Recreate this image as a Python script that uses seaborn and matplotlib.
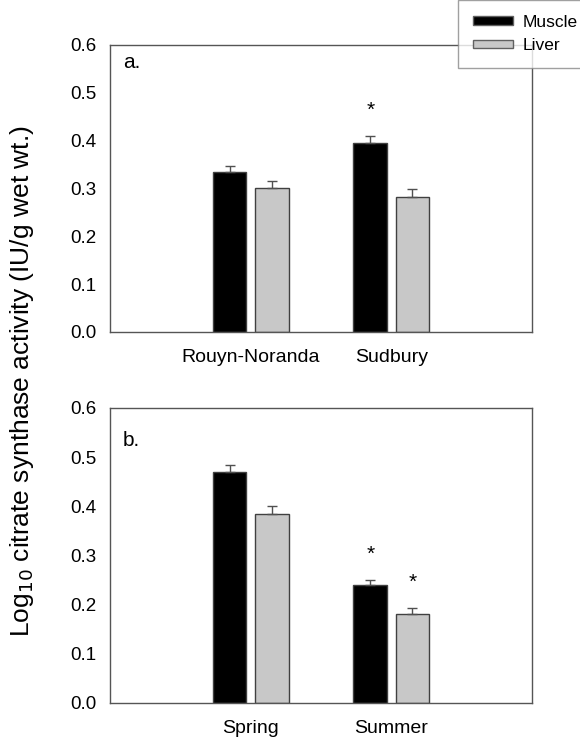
import matplotlib
matplotlib.use('Agg')
import matplotlib.pyplot as plt
import pandas as pd
import seaborn as sns
from matplotlib.patches import Patch

# data
tissues = ['Muscle', 'Liver']
sites = ['Rouyn-Noranda', 'Sudbury']
site_muscle = [0.335, 0.395]
site_liver = [0.300, 0.283]
site_muscle_se = [0.013, 0.014]
site_liver_se = [0.015, 0.015]
site_stars = [(1, 'Muscle')]

seasons = ['Spring', 'Summer']
season_muscle = [0.470, 0.239]
season_liver = [0.385, 0.180]
season_muscle_se = [0.015, 0.011]
season_liver_se = [0.016, 0.013]
season_stars = [(1, 'Muscle'), (1, 'Liver')]

colors = {'Muscle': '#000000', 'Liver': '#c8c8c8'}
edge = '#404040'


def make_df(cats, muscle, liver, muscle_se, liver_se):
    rows = []
    for i, c in enumerate(cats):
        rows.append({'group': c, 'tissue': 'Muscle', 'value': muscle[i], 'se': muscle_se[i]})
        rows.append({'group': c, 'tissue': 'Liver', 'value': liver[i], 'se': liver_se[i]})
    return pd.DataFrame(rows)


def draw_panel(ax, df, cats, stars, label, label_y):
    sns.barplot(data=df, x='group', y='value', hue='tissue', order=cats,
                hue_order=tissues, palette=colors, width=0.6, gap=0.2,
                errorbar=None, edgecolor=edge, linewidth=1, legend=False, ax=ax)
    # error bars (upper only) at the bar centres
    for t, cont in zip(tissues, ax.containers):
        sub = df[df['tissue'] == t].set_index('group').loc[cats]
        xs = [p.get_x() + p.get_width() / 2 for p in cont.patches]
        ax.errorbar(xs, sub['value'], yerr=[[0] * len(xs), sub['se']], fmt='none',
                    ecolor='#505050', elinewidth=1, capsize=3.3, capthick=1, zorder=3)
        for gi, tt in stars:
            if tt == t:
                ax.text(xs[gi], sub['value'].iloc[gi] + sub['se'].iloc[gi] + 0.042, '*',
                        ha='center', va='baseline', fontsize=15, color='black')
    ax.set_xlim(-1, 2)
    ax.set_ylim(0, 0.6)
    ax.set_yticks([0, 0.1, 0.2, 0.3, 0.4, 0.5, 0.6])
    ax.set_yticklabels(['0.0', '0.1', '0.2', '0.3', '0.4', '0.5', '0.6'])
    ax.set_xlabel('')
    ax.set_ylabel('')
    ax.tick_params(axis='y', direction='out', length=3.5, width=1, color='#505050', pad=6,
                   labelsize=13.5, labelcolor='black')
    ax.tick_params(axis='x', direction='out', length=3, width=1, color='#505050', pad=9,
                   labelsize=14, labelcolor='black')
    for s in ax.spines.values():
        s.set_color('#555555')
        s.set_linewidth(1)
    ax.text(0.03, label_y, label, transform=ax.transAxes, fontsize=15, va='center',
            ha='left', color='black')


sns.set_style('white')
plt.rcParams['font.family'] = ['Liberation Sans', 'DejaVu Sans']
plt.rcParams['text.color'] = 'black'

fig = plt.figure(figsize=(5.8, 7.45), dpi=100)
ax1 = fig.add_axes([0.1897, 0.5544, 0.7276, 0.3852])
ax2 = fig.add_axes([0.1897, 0.0564, 0.7276, 0.3960])

df1 = make_df(sites, site_muscle, site_liver, site_muscle_se, site_liver_se)
df2 = make_df(seasons, season_muscle, season_liver, season_muscle_se, season_liver_se)
draw_panel(ax1, df1, sites, site_stars, 'a.', 0.94)
draw_panel(ax2, df2, seasons, season_stars, 'b.', 0.89)

fig.text(0.038, 0.488, 'Log$_{10}$ citrate synthase activity (IU/g wet wt.)',
         rotation=90, ha='center', va='center', fontsize=19)

handles = [Patch(facecolor=colors[t], edgecolor='#606060', label=t) for t in tissues]
leg = fig.legend(handles=handles, loc='upper left', bbox_to_anchor=(458 / 580, 1.0),
                 borderaxespad=0, frameon=True, fancybox=False, edgecolor='#888888',
                 fontsize=12.5, handlelength=2.3, handleheight=0.35, labelspacing=0.5,
                 handletextpad=0.6, borderpad=0.85)
leg.get_frame().set_linewidth(1)

fig.savefig('out.png', dpi=100)
